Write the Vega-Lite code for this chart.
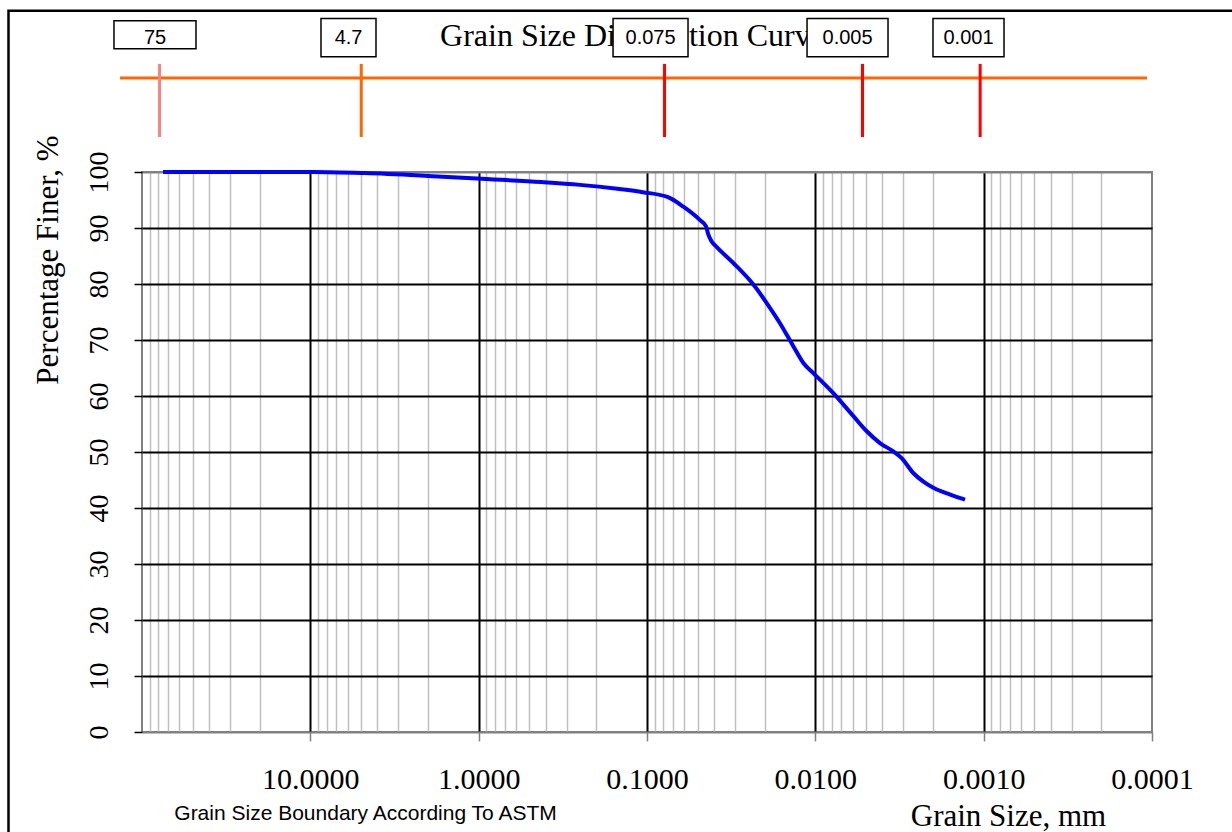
{
  "$schema": "https://vega.github.io/schema/vega-lite/v6.json",
  "width": 1010,
  "height": 560,
  "autosize": {"type": "none"},
  "padding": {"left": 142, "top": 172, "right": 80, "bottom": 100},
  "background": "white",
  "config": {"view": {"stroke": "#808080", "strokeWidth": 2, "fill": "white"}},
  "datasets": {
    "curve": [
      {"size": 75, "pct": 100},
      {"size": 50, "pct": 100},
      {"size": 37.5, "pct": 100},
      {"size": 25, "pct": 100},
      {"size": 19, "pct": 100},
      {"size": 12.5, "pct": 100},
      {"size": 9.5, "pct": 100},
      {"size": 4.75, "pct": 99.8},
      {"size": 2.0, "pct": 99.3},
      {"size": 0.85, "pct": 98.7},
      {"size": 0.425, "pct": 98.2},
      {"size": 0.25, "pct": 97.7},
      {"size": 0.15, "pct": 97.0},
      {"size": 0.106, "pct": 96.4},
      {"size": 0.075, "pct": 95.5},
      {"size": 0.0608, "pct": 93.8},
      {"size": 0.0484, "pct": 91.4},
      {"size": 0.0446, "pct": 90.3},
      {"size": 0.0432, "pct": 88.8},
      {"size": 0.0413, "pct": 87.6},
      {"size": 0.0385, "pct": 86.6},
      {"size": 0.0307, "pct": 83.75},
      {"size": 0.02334, "pct": 79.9},
      {"size": 0.01945, "pct": 76.6},
      {"size": 0.01622, "pct": 73.0},
      {"size": 0.01352, "pct": 68.9},
      {"size": 0.01178, "pct": 65.9},
      {"size": 0.01028, "pct": 64.1},
      {"size": 0.00782, "pct": 60.5},
      {"size": 0.00594, "pct": 56.4},
      {"size": 0.00495, "pct": 53.7},
      {"size": 0.00413, "pct": 51.6},
      {"size": 0.00344, "pct": 50.1},
      {"size": 0.00307, "pct": 48.9},
      {"size": 0.00262, "pct": 46.25},
      {"size": 0.00229, "pct": 44.75},
      {"size": 0.00199, "pct": 43.6},
      {"size": 0.00158, "pct": 42.4},
      {"size": 0.00129, "pct": 41.5}
    ],
    "markers": [
      {"size": 75, "label": "75"},
      {"size": 4.75, "label": "4.75"},
      {"size": 0.075, "label": "0.075"},
      {"size": 0.005, "label": "0.005"},
      {"size": 0.001, "label": "0.001"}
    ],
    "boxes": [
      {"text": "75", "left": 146.7, "right": 47.78, "top": 127.0, "bottom": 122.0, "mid": 83.7},
      {"text": "4.7", "left": 8.643, "right": 4.073, "top": 127.4, "bottom": 120.6, "mid": 5.93},
      {"text": "0.075", "left": 0.1591, "right": 0.05706, "top": 127.4, "bottom": 120.6, "mid": 0.09528},
      {"text": "0.005", "left": 0.0112, "right": 0.0037, "top": 127.4, "bottom": 120.6, "mid": 0.006437},
      {"text": "0.001", "left": 0.002, "right": 0.000757, "top": 127.4, "bottom": 120.6, "mid": 0.0012305}
    ]
  },
  "layer": [
    {
      "data": {"name": "curve"},
      "mark": {"type": "line", "color": "#0000FF", "strokeWidth": 4, "interpolate": "monotone", "clip": false},
      "encoding": {
        "x": {
          "field": "size", "type": "quantitative",
          "scale": {"type": "log", "domain": [0.0001, 100], "reverse": true, "nice": false},
          "axis": {
            "title": "Grain Size, mm",
            "values": [90,80,70,60,50,40,30,20,10,9,8,7,6,5,4,3,2,1,0.9,0.8,0.7,0.6,0.5,0.4,0.3,0.2,0.1,0.09,0.08,0.07,0.06,0.05,0.04,0.03,0.02,0.01,0.009,0.008,0.007,0.006,0.005,0.004,0.003,0.002,0.001,0.0009,0.0008,0.0007,0.0006,0.0005,0.0004,0.0003,0.0002,0.0001],
            "grid": true,
            "gridColor": {"condition": {"test": "abs(log(datum.value)/LN10 - round(log(datum.value)/LN10)) < 0.001", "value": "#000000"}, "value": "#BFBFBF"},
            "gridWidth": {"condition": {"test": "abs(log(datum.value)/LN10 - round(log(datum.value)/LN10)) < 0.001", "value": 2}, "value": 1.5},
            "gridOpacity": {"condition": {"test": "datum.value < 0.00015", "value": 0}, "value": 1},
            "domain": false,
            "ticks": true,
            "tickSize": 9,
            "tickColor": "#808080",
            "tickWidth": 1.5,
            "tickOpacity": {"condition": {"test": "abs(log(datum.value)/LN10 - round(log(datum.value)/LN10)) < 0.001", "value": 1}, "value": 0},
            "labelExpr": "abs(log(datum.value)/LN10 - round(log(datum.value)/LN10)) < 0.001 ? format(datum.value, '.4f') : ''",
            "labelFont": "Liberation Serif",
            "labelFontSize": 30,
            "labelColor": "#000000",
            "labelBaseline": "alphabetic",
            "labelAlign": "center",
            "labelPadding": 47,
            "labelOverlap": false,
            "labelFlush": false,
            "labelBound": false,
            "titleFont": "Liberation Serif",
            "titleFontSize": 31,
            "titleFontWeight": "normal",
            "titleColor": "#000000",
            "titleX": 866,
            "titleY": 93,
            "titleAlign": "center",
            "titleBaseline": "alphabetic",
            "titleAngle": 0
          }
        },
        "y": {
          "field": "pct", "type": "quantitative",
          "scale": {"domain": [0, 100], "nice": false, "zero": false},
          "axis": {
            "title": "Percentage Finer, %",
            "values": [0,5,10,15,20,25,30,35,40,45,50,55,60,65,70,75,80,85,90,95,100],
            "grid": true,
            "gridColor": {"condition": {"test": "datum.value % 10 == 0 && datum.value > 0 && datum.value < 100", "value": "#000000"}, "value": "#808080"},
            "gridWidth": {"condition": {"test": "datum.value % 10 == 0", "value": 2}, "value": 1},
            "domain": false,
            "ticks": true,
            "tickSize": 8,
            "tickColor": "#000000",
            "tickWidth": 1.5,
            "tickOpacity": {"condition": {"test": "datum.value % 10 == 0", "value": 1}, "value": 0},
            "labelExpr": "datum.value % 10 == 0 ? datum.label : ''",
            "labelAngle": 270,
            "labelAlign": "center",
            "labelBaseline": "alphabetic",
            "labelPadding": 27,
            "labelFont": "Liberation Serif",
            "labelFontSize": 28,
            "labelColor": "#000000",
            "labelOverlap": false,
            "labelBound": false,
            "labelFlush": false,
            "titleFont": "Liberation Serif",
            "titleFontSize": 31,
            "titleFontWeight": "normal",
            "titleColor": "#000000",
            "titleAngle": 270,
            "titleX": -85,
            "titleY": 87.5,
            "titleAlign": "center",
            "titleBaseline": "alphabetic"
          }
        }
      }
    },
    {
      "data": {"values": [{"t": ""}]},
      "mark": {"type": "rect", "fill": "white", "fillOpacity": 0, "stroke": "#000000", "strokeWidth": 2.5, "clip": false},
      "encoding": {
        "x": {"datum": 621, "type": "quantitative", "scale": {"type": "log", "domain": [0.0001, 100], "reverse": true, "nice": false}},
        "x2": {"datum": 0.0000001},
        "y": {"datum": 128.8, "type": "quantitative", "scale": {"domain": [0, 100], "nice": false, "zero": false}},
        "y2": {"datum": -40}
      }
    },
    {
      "data": {"values": [{"t": "Grain Size Distribution Curve"}]},
      "mark": {"type": "text", "font": "Liberation Serif", "fontSize": 32, "color": "#000000", "align": "center", "baseline": "alphabetic", "clip": false},
      "encoding": {
        "x": {"datum": 0.122, "type": "quantitative", "scale": {"type": "log", "domain": [0.0001, 100], "reverse": true, "nice": false}},
        "y": {"datum": 122.55, "type": "quantitative", "scale": {"domain": [0, 100], "nice": false, "zero": false}},
        "text": {"field": "t"}
      }
    },
    {
      "data": {"values": [{"t": ""}]},
      "mark": {"type": "rule", "color": "#FF6600", "strokeWidth": 3, "clip": false},
      "encoding": {
        "x": {"datum": 135, "type": "quantitative", "scale": {"type": "log", "domain": [0.0001, 100], "reverse": true, "nice": false}},
        "x2": {"datum": 0.000107},
        "y": {"datum": 116.8, "type": "quantitative", "scale": {"domain": [0, 100], "nice": false, "zero": false}}
      }
    },
    {
      "data": {"name": "markers"},
      "mark": {"type": "rule", "strokeWidth": 3, "xOffset": -3.5, "clip": false},
      "encoding": {
        "x": {"field": "size", "type": "quantitative", "scale": {"type": "log", "domain": [0.0001, 100], "reverse": true, "nice": false}},
        "y": {"datum": 106.25, "type": "quantitative", "scale": {"domain": [0, 100], "nice": false, "zero": false}},
        "y2": {"datum": 119.3},
        "color": {"field": "label", "type": "nominal", "scale": {"domain": ["75", "4.75", "0.075", "0.005", "0.001"], "range": ["#FF8080", "#FF6600", "#FF0000", "#FF0000", "#FF0000"]}, "legend": null}
      }
    },
    {
      "data": {"name": "boxes"},
      "mark": {"type": "rect", "fill": "white", "stroke": "#000000", "strokeWidth": 1.5, "clip": false},
      "encoding": {
        "x": {"field": "left", "type": "quantitative", "scale": {"type": "log", "domain": [0.0001, 100], "reverse": true, "nice": false}},
        "x2": {"field": "right"},
        "y": {"field": "top", "type": "quantitative", "scale": {"domain": [0, 100], "nice": false, "zero": false}},
        "y2": {"field": "bottom"}
      }
    },
    {
      "data": {"name": "boxes"},
      "mark": {"type": "text", "font": "Liberation Sans", "fontSize": 20, "color": "#000000", "align": "center", "baseline": "middle", "clip": false},
      "encoding": {
        "x": {"field": "mid", "type": "quantitative", "scale": {"type": "log", "domain": [0.0001, 100], "reverse": true, "nice": false}},
        "y": {"datum": 124, "type": "quantitative", "scale": {"domain": [0, 100], "nice": false, "zero": false}},
        "text": {"field": "text"}
      }
    },
    {
      "data": {"values": [{"t": "Grain Size Boundary According To ASTM"}]},
      "mark": {"type": "text", "font": "Liberation Sans", "fontSize": 21, "color": "#000000", "align": "center", "baseline": "alphabetic", "clip": false},
      "encoding": {
        "x": {"datum": 4.7, "type": "quantitative", "scale": {"type": "log", "domain": [0.0001, 100], "reverse": true, "nice": false}},
        "y": {"datum": -15.66, "type": "quantitative", "scale": {"domain": [0, 100], "nice": false, "zero": false}},
        "text": {"field": "t"}
      }
    }
  ]
}
